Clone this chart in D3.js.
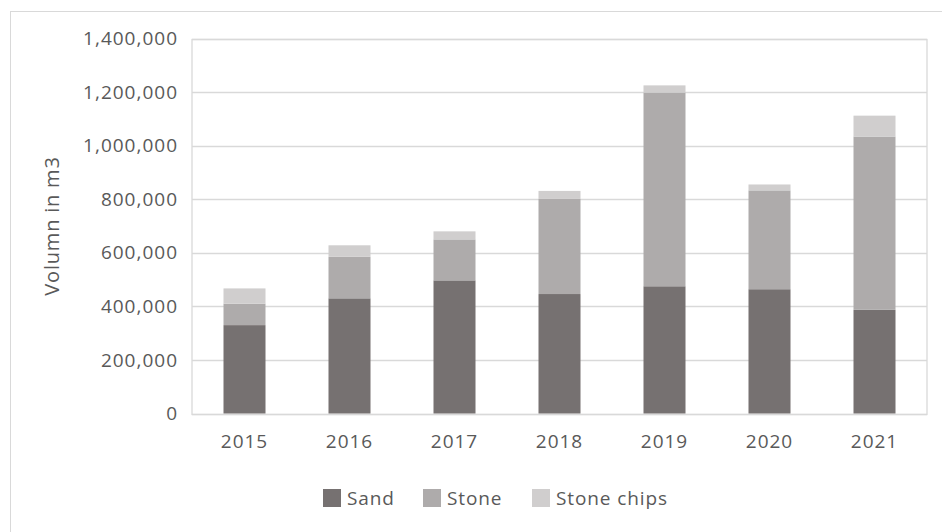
<!DOCTYPE html>
<html><head><meta charset="utf-8">
<script src="https://cdn.jsdelivr.net/npm/d3@7"></script>
<style>body{margin:0;background:#fff;} svg{display:block;} text{font-family:"Open Sans",sans-serif;fill:#595959;}</style>
</head><body><svg id="c" width="942" height="532"></svg>
<script>
const years = ["2015","2016","2017","2018","2019","2020","2021"];
const sand = [330000, 430000, 497000, 446000, 475000, 464000, 387000];
const stone = [80000, 155000, 153000, 355000, 723000, 369000, 647000];
const stoneChips = [57000, 43000, 30000, 30000, 27000, 22000, 78000];
const seriesNames = ["Sand","Stone","Stone chips"];
const colors = ["#767171","#AEABAB","#D0CECE"];
const yTicks = [0,200000,400000,600000,800000,1000000,1200000,1400000];

const svg = d3.select("#c");
const W = 942, H = 532;
const m = {left:192, right:W-927, top:38.5, bottom:H-413.5};

svg.append("rect").attr("x",10.5).attr("y",11.5).attr("width",W).attr("height",H)
  .attr("fill","#fff").attr("stroke","#d9d9d9");

const x = d3.scaleBand().domain(years).range([m.left, W-m.right]).paddingInner(0.6).paddingOuter(0.3);
const y = d3.scaleLinear().domain([0,1400000]).range([H-m.bottom, m.top]);

const table = years.map((yr,i)=>({year:yr, "Sand":sand[i], "Stone":stone[i], "Stone chips":stoneChips[i]}));
const stack = d3.stack().keys(seriesNames)(table);

// gridlines
svg.append("g").selectAll("line").data(yTicks).join("line")
  .attr("x1",m.left).attr("x2",W-m.right)
  .attr("y1",d=>Math.round(y(d))+0.5).attr("y2",d=>Math.round(y(d))+0.5)
  .attr("stroke","#d9d9d9").attr("stroke-width",1.3);
// plot border
svg.append("rect").attr("x",m.left).attr("y",Math.round(y(1400000))+0.5)
  .attr("width",W-m.right-m.left).attr("height",Math.round(y(0))-Math.round(y(1400000)))
  .attr("fill","none").attr("stroke","#d9d9d9").attr("stroke-width",1.3);

// bars
svg.append("g").selectAll("g").data(stack).join("g")
  .attr("fill",(d,i)=>colors[i])
  .selectAll("rect").data(d=>d).join("rect")
  .attr("x",d=>x(d.data.year)).attr("width",x.bandwidth())
  .attr("y",d=>y(d[1])).attr("height",d=>y(d[0])-y(d[1]));

// y axis labels
const fmt = d3.format(",");
const yAxis = d3.axisLeft(y).tickValues(yTicks).tickFormat(fmt).tickSize(0).tickPadding(14);
const gy = svg.append("g").attr("transform",`translate(${m.left},0)`).call(yAxis);
gy.select(".domain").remove();
gy.selectAll("text").attr("font-size",19).attr("fill","#595959").style("font-family","'Open Sans',sans-serif").attr("letter-spacing","1px");

// x axis labels
const xAxis = d3.axisBottom(x).tickSize(0).tickPadding(21);
const gx = svg.append("g").attr("transform",`translate(0,${H-m.bottom})`).call(xAxis);
gx.select(".domain").remove();
gx.selectAll("text").attr("font-size",19).attr("fill","#595959").style("font-family","'Open Sans',sans-serif").attr("letter-spacing","1px");

// y title
svg.append("text").attr("transform",`translate(59,${(y(0)+y(1400000))/2}) rotate(-90)`)
  .attr("text-anchor","middle").attr("font-size",20).attr("letter-spacing","0.8px").text("Volumn in m3");

// legend
const legendX = [323, 423, 532];
const lg = svg.append("g").selectAll("g").data(seriesNames).join("g")
  .attr("transform",(d,i)=>`translate(${legendX[i]},489)`);
lg.append("rect").attr("width",18).attr("height",18).attr("fill",(d,i)=>colors[i]);
lg.append("text").attr("x",24).attr("y",9).attr("dy","0.35em").attr("font-size",19).attr("letter-spacing","0.9px").text(d=>d);
</script></body></html>
